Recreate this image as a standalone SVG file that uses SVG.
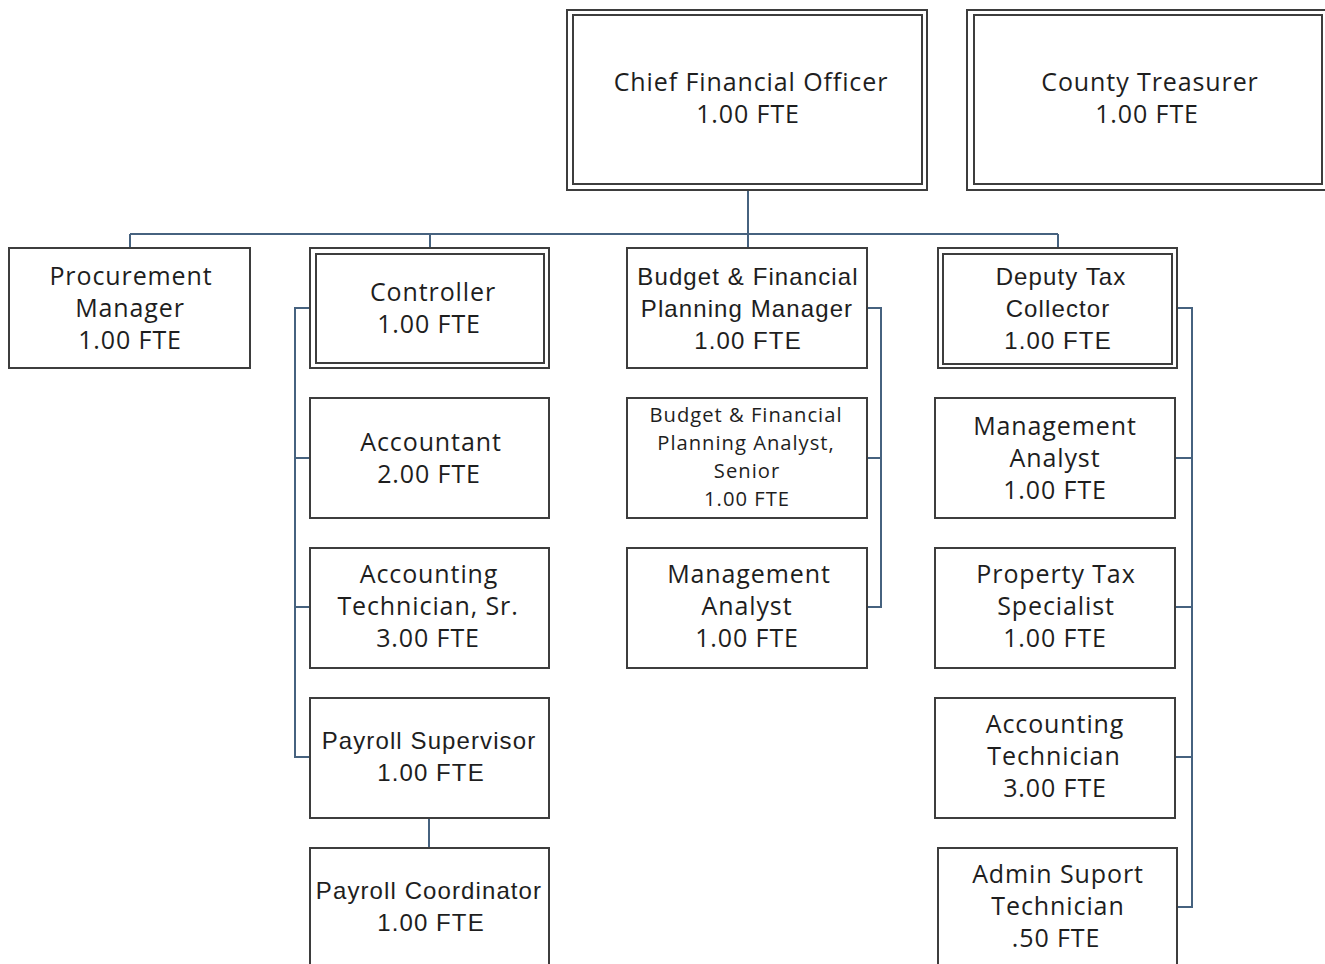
<svg xmlns="http://www.w3.org/2000/svg" width="1325" height="964" viewBox="0 0 1325 964">
  <style>
    .box { fill: #ffffff; stroke: #3d3d3d; stroke-width: 2; }
    .inner { fill: none; stroke: #3d3d3d; stroke-width: 2; }
    .conn { fill: none; stroke: #46627f; stroke-width: 2; }
    text { fill: #1e1e1e; text-anchor: middle; }
    .seg { font-family: "Open Sans", "Noto Sans", sans-serif; font-size: 25px; letter-spacing: 0.9px; }
    .ari { font-family: "Liberation Sans", Arial, sans-serif; font-size: 24px; letter-spacing: 1.1px; }
    .small { font-family: "Open Sans", "Noto Sans", sans-serif; font-size: 20.2px; letter-spacing: 1px; }
  </style>
  <rect width="1325" height="964" fill="#ffffff"/>

  <!-- reporting lines -->
  <g id="connectors">
    <path class="conn" d="M748,191 V234 M130,234 H1058 M130,234 V248 M430,234 V248 M748,234 V248 M1058,234 V248"/>
    <path class="conn" d="M310,308 H295 V757 H310 M295,458 H310 M295,607 H310"/>
    <path class="conn" d="M867,308 H881 V607 H867 M881,458 H867"/>
    <path class="conn" d="M1177,308 H1192 V907 H1177 M1192,458 H1175 M1192,607 H1175 M1192,757 H1175"/>
    <path class="conn" d="M429,818 V848"/>
  </g>

  <!-- top row -->
  <g id="cfo">
    <rect class="box" x="567" y="10" width="360" height="180"/>
    <rect class="inner" x="573" y="15" width="349" height="169"/>
    <text class="seg" x="751" y="91">Chief Financial Officer</text>
    <text class="seg" x="748" y="123">1.00 FTE</text>
  </g>
  <g id="county-treasurer">
    <rect class="box" x="967" y="10" width="362" height="180"/>
    <rect class="inner" x="974" y="15" width="348" height="169"/>
    <text class="seg" x="1150" y="91">County Treasurer</text>
    <text class="seg" x="1147" y="123">1.00 FTE</text>
  </g>

  <!-- second row -->
  <g id="procurement-manager">
    <rect class="box" x="9" y="248" width="241" height="120"/>
    <text class="seg" x="131" y="285">Procurement</text>
    <text class="seg" x="130" y="317">Manager</text>
    <text class="seg" x="130" y="349">1.00 FTE</text>
  </g>
  <g id="controller">
    <rect class="box" x="310" y="248" width="239" height="120"/>
    <rect class="inner" x="316" y="254" width="228" height="109"/>
    <text class="seg" x="433" y="301">Controller</text>
    <text class="seg" x="429" y="333">1.00 FTE</text>
  </g>
  <g id="budget-manager">
    <rect class="box" x="627" y="248" width="240" height="120"/>
    <text class="ari" x="748" y="285">Budget &amp; Financial</text>
    <text class="ari" x="747" y="317">Planning Manager</text>
    <text class="ari" x="748" y="349">1.00 FTE</text>
  </g>
  <g id="deputy-tax-collector">
    <rect class="box" x="938" y="248" width="239" height="120"/>
    <rect class="inner" x="943" y="254" width="229" height="110"/>
    <text class="ari" x="1061" y="285">Deputy Tax</text>
    <text class="ari" x="1058" y="317">Collector</text>
    <text class="ari" x="1058" y="349">1.00 FTE</text>
  </g>

  <!-- controller staff -->
  <g id="accountant">
    <rect class="box" x="310" y="398" width="239" height="120"/>
    <text class="seg" x="431" y="451">Accountant</text>
    <text class="seg" x="429" y="483">2.00 FTE</text>
  </g>
  <g id="accounting-technician-sr">
    <rect class="box" x="310" y="548" width="239" height="120"/>
    <text class="seg" x="429" y="583">Accounting</text>
    <text class="seg" x="428" y="615">Technician, Sr.</text>
    <text class="seg" x="428" y="647">3.00 FTE</text>
  </g>
  <g id="payroll-supervisor">
    <rect class="box" x="310" y="698" width="239" height="120"/>
    <text class="ari" x="429" y="749">Payroll Supervisor</text>
    <text class="ari" x="431" y="781">1.00 FTE</text>
  </g>
  <g id="payroll-coordinator">
    <rect class="box" x="310" y="848" width="239" height="130"/>
    <text class="ari" x="429" y="899">Payroll Coordinator</text>
    <text class="ari" x="431" y="931">1.00 FTE</text>
  </g>

  <!-- budget staff -->
  <g id="budget-analyst-senior">
    <rect class="box" x="627" y="398" width="240" height="120"/>
    <text class="small" x="746" y="422">Budget &amp; Financial</text>
    <text class="small" x="746" y="450">Planning Analyst,</text>
    <text class="small" x="747" y="478">Senior</text>
    <text class="small" x="747" y="506">1.00 FTE</text>
  </g>
  <g id="budget-management-analyst">
    <rect class="box" x="627" y="548" width="240" height="120"/>
    <text class="seg" x="749" y="583">Management</text>
    <text class="seg" x="747" y="615">Analyst</text>
    <text class="seg" x="747" y="647">1.00 FTE</text>
  </g>

  <!-- tax collector staff -->
  <g id="tax-management-analyst">
    <rect class="box" x="935" y="398" width="240" height="120"/>
    <text class="seg" x="1055" y="435">Management</text>
    <text class="seg" x="1055" y="467">Analyst</text>
    <text class="seg" x="1055" y="499">1.00 FTE</text>
  </g>
  <g id="property-tax-specialist">
    <rect class="box" x="935" y="548" width="240" height="120"/>
    <text class="seg" x="1056" y="583">Property Tax</text>
    <text class="seg" x="1056" y="615">Specialist</text>
    <text class="seg" x="1055" y="647">1.00 FTE</text>
  </g>
  <g id="accounting-technician">
    <rect class="box" x="935" y="698" width="240" height="120"/>
    <text class="seg" x="1055" y="733">Accounting</text>
    <text class="seg" x="1054" y="765">Technician</text>
    <text class="seg" x="1055" y="797">3.00 FTE</text>
  </g>
  <g id="admin-support-technician">
    <rect class="box" x="938" y="848" width="239" height="130"/>
    <text class="seg" x="1058" y="883">Admin Suport</text>
    <text class="seg" x="1058" y="915">Technician</text>
    <text class="seg" x="1056" y="947">.50 FTE</text>
  </g>
</svg>
